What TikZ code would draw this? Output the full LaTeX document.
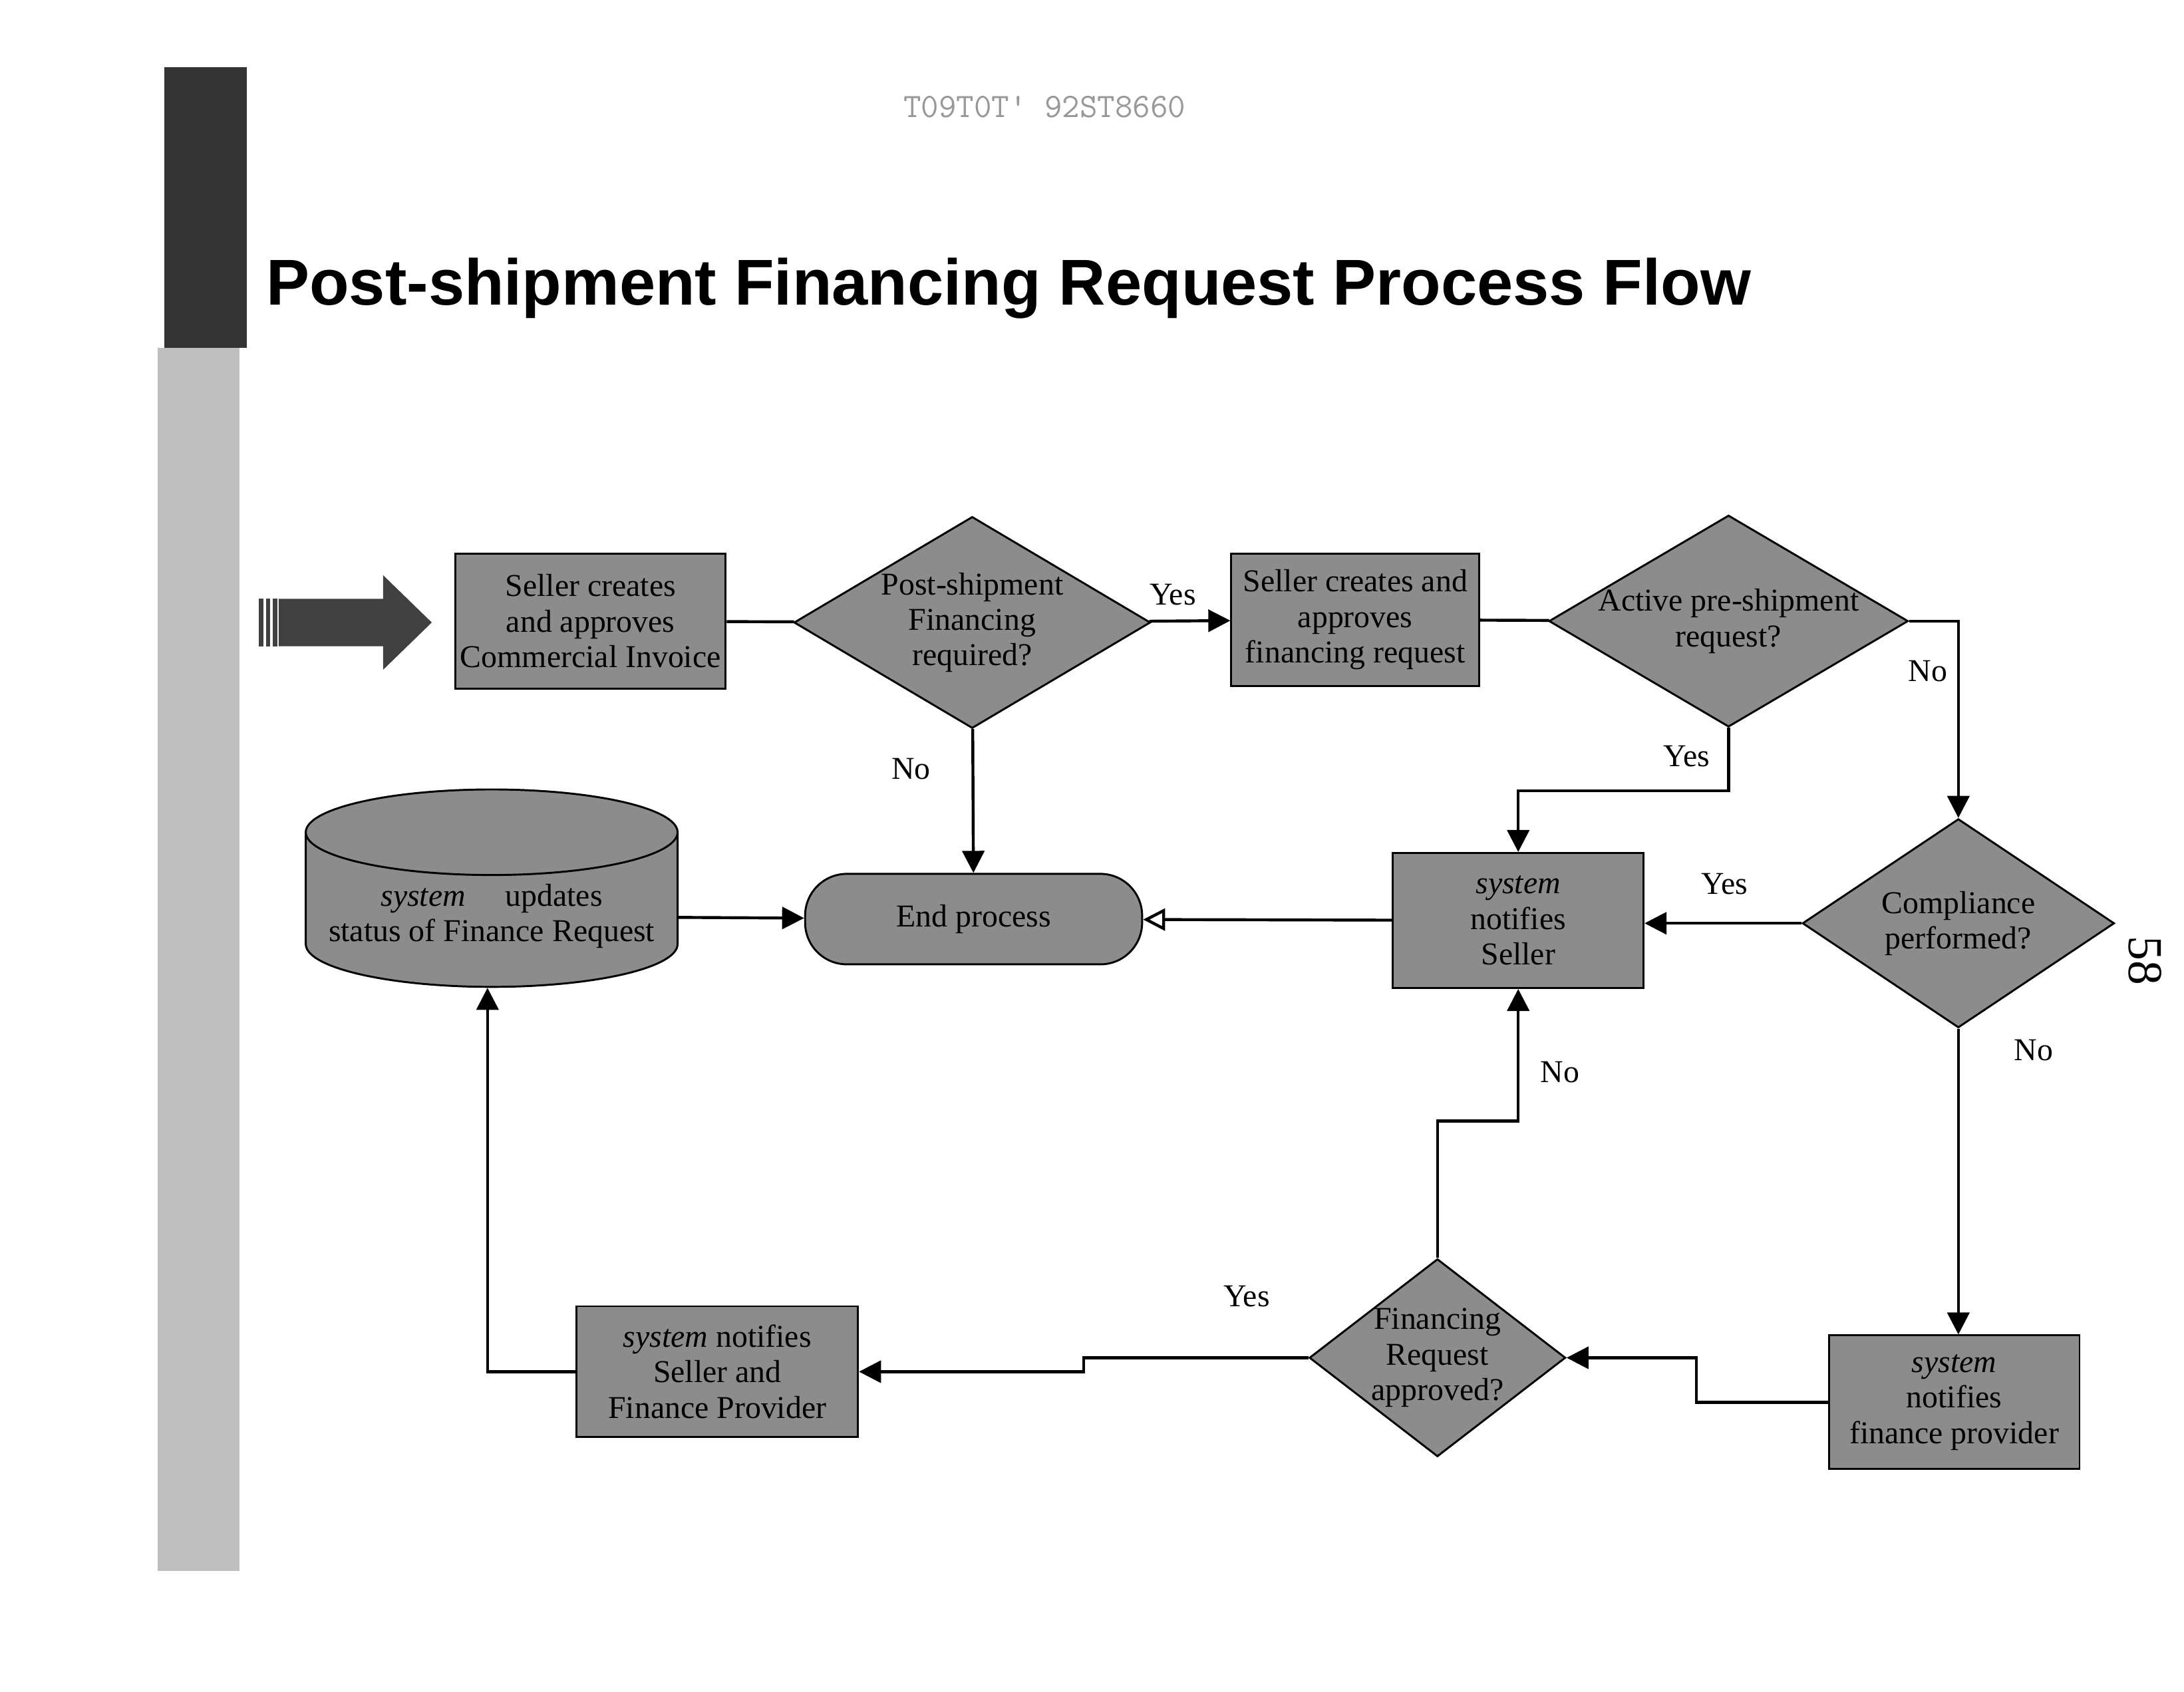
\documentclass[tikz,border=0pt]{standalone}
\usepackage{fontspec}
\setmainfont{Liberation Serif}
\newfontfamily\titlefont{Liberation Sans}
\usetikzlibrary{shapes.geometric,arrows.meta}
\tikzset{
  box/.style={draw,thick,fill=black!45,align=center,font=\fontsize{13}{14.5}\selectfont,inner sep=1pt},
  dec/.style={draw,thick,diamond,aspect=1.7,fill=black!45,align=center,font=\fontsize{13}{14.5}\selectfont,inner sep=0pt},
  flow/.style={very thick,-{Triangle[length=9pt,width=9pt]}},
  lbl/.style={font=\fontsize{13}{14.5}\selectfont},
}
\newcommand{\hand}{\textit{system}}
\begin{document}
\begin{tikzpicture}[x=0.02cm,y=-0.02cm]
    \useasboundingbox (0,0) rectangle (1568,1215);
    \fill[white] (0,0) rectangle (1568,1215);

    % side bar
    \fill[black!80] (118,48) rectangle (177,250);
    \fill[black!25] (113,250) rectangle (172,1128);

    \node[black!40,font=\fontsize{14}{14}\ttfamily] (stamp) at (750,77) {T09T0T' 92ST8660};
    \node[anchor=west,font=\titlefont\bfseries\fontsize{26.5}{30}\selectfont] (title) at (185,207)
      {Post-shipment Financing Request Process Flow};
    \node[rotate=-90,font=\fontsize{20}{20}\selectfont] (page) at (1540,690) {58};

    % entry arrow
    \fill[black!75] (200,430) -- (275,430) -- (275,413) -- (310,447)
      -- (275,481) -- (275,464) -- (200,464) -- cycle;
    \foreach \x in {186,191,196} \fill[black!75] (\x,430) rectangle (\x+3,464);

    \node[box,minimum width=3.88cm,minimum height=1.94cm] (inv) at (424,446)
      {Seller creates\\and approves\\Commercial Invoice};
    \node[dec,minimum width=5.12cm,minimum height=3.04cm] (post) at (698,447)
      {Post-shipment\\Financing\\required?};
    \node[box,minimum width=3.56cm,minimum height=1.9cm] (req) at (973,445)
      {Seller creates and\\approves\\financing request};
    \node[dec,inner sep=-4pt,minimum width=5.16cm,minimum height=3.04cm] (pre) at (1241,446)
      {Active pre-shipment\\request?};
    \node[draw,thick,rounded corners=0.6cm,fill=black!45,minimum width=4.84cm,minimum height=1.3cm,
      font=\fontsize{13}{14.5}\selectfont] (end) at (699,660) {End process};
    \node[draw,thick,cylinder,shape border rotate=90,aspect=0.25,fill=black!45,
      minimum width=5.34cm,minimum height=2.4cm,align=center,
      font=\fontsize{13}{14.5}\selectfont] (db) at (353,658)
      {\hand{} \quad updates\\status of Finance Request};
    \node[box,minimum width=3.6cm,minimum height=1.94cm] (seller) at (1090,661)
      {\hand\\notifies\\Seller};
    \node[dec,minimum width=4.48cm,minimum height=3cm] (comp) at (1406,663)
      {Compliance\\performed?};
    \node[box,minimum width=3.6cm,minimum height=1.92cm] (fp) at (1403,1007)
      {\hand\\notifies\\finance provider};
    \node[dec,inner sep=-7pt,minimum width=3.68cm,minimum height=2.84cm] (appr) at (1032,975)
      {Financing\\Request\\approved?};
    \node[box,minimum width=4.04cm,minimum height=1.88cm] (both) at (515,985)
      {\hand{} notifies\\Seller and\\Finance Provider};

    \coordinate (c1) at (1406,446);
    \coordinate (c2) at (1241,568);
    \coordinate (c3) at (1090,568);
    \coordinate (c4) at (1218,1007);
    \coordinate (c6) at (1032,805);
    \coordinate (c7) at (1090,805);
    \coordinate (c8) at (778,975);
    \coordinate (c10) at (350,985);

    \draw[very thick] (inv) -- (post);
    \draw[very thick] (req) -- (pre);
    \draw[flow] (post) -- (req);
    \draw[flow] (post) -- (end);
    \draw[flow] (pre.east) -- (c1) -- (comp.north);
    \draw[flow] (pre.south) -- (c2) -- (c3) -- (seller.north);
    \draw[flow] (comp) -- (seller.east |- comp);
    \draw[flow,-{Triangle[open,length=9pt,width=9pt]}] (seller) -- (end);
    \draw[flow] (db) -- (end);
    \draw[flow] (comp.south) -- (comp.south |- fp.north);
    \draw[flow] (fp.west) -- (c4) |- (appr.east);
    \draw[flow] (appr.north) -- (c6) -- (c7) -- (seller.south);
    \draw[flow] (appr.west) -- (c8) |- (both.east);
    \draw[flow] (both.west) -- (c10) -- (c10 |- db.south);

    \node[lbl] (y1) at (842,427) {Yes};
    \node[lbl] (n1) at (654,552) {No};
    \node[lbl] (n2) at (1384,482) {No};
    \node[lbl] (y2) at (1211,543) {Yes};
    \node[lbl] (y3) at (1238,635) {Yes};
    \node[lbl] (n3) at (1460,754) {No};
    \node[lbl] (n4) at (1120,770) {No};
    \node[lbl] (y4) at (895,931) {Yes};
  \end{tikzpicture}
\end{document}
